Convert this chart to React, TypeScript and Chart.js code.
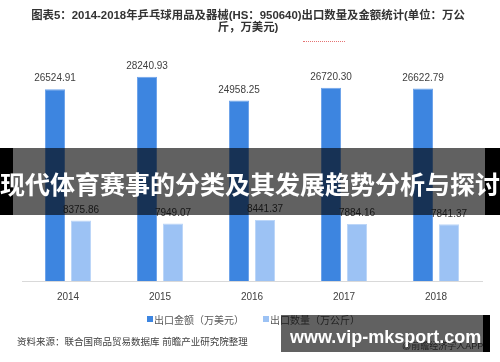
import React, { useEffect, useRef } from "react";
import { Chart, registerables } from "chart.js";

Chart.register(...registerables);

const categories = ["2014", "2015", "2016", "2017", "2018"];
const exportValue = [26524.91, 28240.93, 24958.25, 26720.3, 26622.79];
const exportQuantity = [8375.86, 7949.07, 8441.37, 7884.16, 7841.37];
const seriesNames = ["出口金额（万美元）", "出口数量（万公斤）"];
const seriesColors = ["#3D85E0", "#9CC2F4"];
const titleLines = [
  "图表5：2014-2018年乒乓球用品及器械(HS：950640)出口数量及金额统计(单位：万公",
  "斤，万美元)",
];
const bannerText = "现代体育赛事的分类及其发展趋势分析与探讨";
const sourceText = "资料来源：联合国商品贸易数据库 前瞻产业研究院整理";
const appText = "@前瞻经济学人APP";
const siteText = "www.vip-mksport.com";

const valueLabelPlugin = {
  id: "valueLabels",
  afterDatasetsDraw(chart: any) {
    const ctx = chart.ctx;
    ctx.save();
    ctx.font = '10px "Liberation Sans", Arial, sans-serif';
    ctx.fillStyle = "#404040";
    ctx.textAlign = "center";
    ctx.textBaseline = "middle";
    chart.data.datasets.forEach((ds: any, i: number) => {
      const meta = chart.getDatasetMeta(i);
      meta.data.forEach((el: any, j: number) => {
        const v = ds.data[j] as number;
        ctx.fillText(v.toFixed(2), el.x, el.y - 10.5);
      });
    });
    ctx.restore();
  },
};

export default function App() {
  const canvasRef = useRef<HTMLCanvasElement | null>(null);

  useEffect(() => {
    if (!canvasRef.current) return;
    const chart = new Chart(canvasRef.current, {
      type: "bar",
      data: {
        labels: categories,
        datasets: [
          {
            label: seriesNames[0],
            data: exportValue,
            backgroundColor: seriesColors[0],
            borderColor: "#6FA4EA",
            borderWidth: 1,
            categoryPercentage: 0.5652,
            barPercentage: 0.7692,
          },
          {
            label: seriesNames[1],
            data: exportQuantity,
            backgroundColor: seriesColors[1],
            borderColor: "#BCD6F8",
            borderWidth: 1,
            categoryPercentage: 0.5652,
            barPercentage: 0.7692,
          },
        ],
      },
      options: {
        responsive: false,
        animation: false,
        devicePixelRatio: 1,
        layout: { padding: { left: 22, right: 18, top: 64, bottom: 49 } },
        plugins: {
          legend: { display: false },
          title: { display: false },
          tooltip: { enabled: false },
        },
        scales: {
          x: {
            grid: { display: false, drawTicks: false },
            border: { display: true, color: "#D9D9D9", width: 1 },
            ticks: {
              padding: 10,
              color: "#404040",
              font: { family: '"Liberation Sans", Arial, sans-serif', size: 10 },
            },
          },
          y: {
            display: false,
            min: 0,
            max: 30000,
            grid: { display: false },
          },
        },
      },
      plugins: [valueLabelPlugin],
    });
    return () => chart.destroy();
  }, []);

  const cjk = '"Liberation Sans", "Noto Sans CJK SC", Arial, sans-serif';

  return (
    <div
      style={{
        position: "absolute",
        left: 0,
        top: 0,
        width: 500,
        height: 362,
        background: "#FFFFFF",
        overflow: "hidden",
        fontFamily: cjk,
      }}
    >
      <canvas
        ref={canvasRef}
        width={500}
        height={362}
        style={{ position: "absolute", left: 0, top: 0, width: 500, height: 362 }}
      />
      <div
        style={{
          position: "absolute",
          left: 0,
          top: 9,
          width: 496,
          textAlign: "center",
          fontSize: 11.4,
          lineHeight: "12px",
          fontWeight: "bold",
          color: "#333333",
          whiteSpace: "nowrap",
        }}
      >
        <div>{titleLines[0]}</div>
        <div>{titleLines[1]}</div>
      </div>
      <div
        style={{
          position: "absolute",
          left: 303,
          top: 41,
          width: 42,
          borderTop: "1px dotted #E57373",
        }}
      />
      {seriesNames.map((name, i) => (
        <div
          key={name}
          style={{
            position: "absolute",
            left: i === 0 ? 147 : 263,
            top: 313,
            height: 12,
            display: "flex",
            alignItems: "center",
            fontSize: 10,
            color: "#595959",
            whiteSpace: "nowrap",
          }}
        >
          <span
            style={{
              display: "inline-block",
              width: 6,
              height: 6,
              background: seriesColors[i],
              marginRight: 1,
            }}
          />
          <span>{name}</span>
        </div>
      ))}
      <div
        style={{
          position: "absolute",
          left: 17,
          top: 336,
          fontSize: 9.5,
          lineHeight: "11px",
          color: "#404040",
          whiteSpace: "nowrap",
        }}
      >
        {sourceText}
      </div>
      <div
        style={{
          position: "absolute",
          left: 402,
          top: 341,
          fontSize: 9,
          lineHeight: "11px",
          color: "#555555",
          whiteSpace: "nowrap",
        }}
      >
        {appText}
      </div>
      <div
        style={{
          position: "absolute",
          left: 281,
          top: 315,
          width: 202,
          height: 37,
          background: "rgba(0,0,0,0.62)",
        }}
      />
      <div
        style={{
          position: "absolute",
          left: 483,
          top: 315,
          width: 7,
          height: 37,
          background: "#000000",
        }}
      />
      <div
        style={{
          position: "absolute",
          left: 290,
          top: 328,
          fontSize: 18,
          lineHeight: "18px",
          fontWeight: "bold",
          color: "#FFFFFF",
          fontFamily: '"Liberation Sans", Arial, sans-serif',
          whiteSpace: "nowrap",
        }}
      >
        {siteText}
      </div>
      <div
        style={{
          position: "absolute",
          left: 13,
          top: 148,
          width: 472,
          height: 67,
          background: "rgba(0,0,0,0.62)",
        }}
      />
      <div
        style={{ position: "absolute", left: 0, top: 148, width: 13, height: 67, background: "#000000" }}
      />
      <div
        style={{ position: "absolute", left: 485, top: 148, width: 15, height: 67, background: "#000000" }}
      />
      <div
        style={{
          position: "absolute",
          left: 0,
          top: 171,
          width: 500,
          textAlign: "center",
          fontSize: 25,
          lineHeight: "25px",
          fontWeight: "bold",
          color: "#FFFFFF",
          fontFamily: '"Noto Sans CJK SC", sans-serif',
          whiteSpace: "nowrap",
        }}
      >
        {bannerText}
      </div>
    </div>
  );
}
